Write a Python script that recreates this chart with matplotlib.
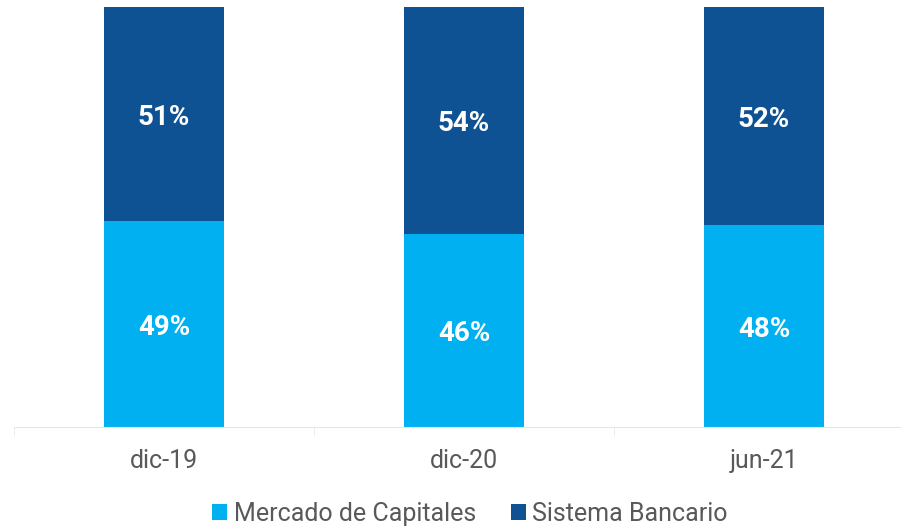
import numpy as np
import matplotlib.pyplot as plt

plt.rcParams['font.family'] = ['Roboto', 'DejaVu Sans']

categorias = ['dic-19', 'dic-20', 'jun-21']
mercado = [49, 46, 48]
bancario = [51, 54, 52]
etiquetas_mercado = ['49%', '46%', '48%']
etiquetas_bancario = ['51%', '54%', '52%']

c_claro = '#00B0F0'
c_oscuro = '#0E5294'

fig = plt.figure(figsize=(9.01, 5.29), dpi=100)
ax = fig.add_axes([14 / 901, 102 / 529, 900 / 901, 420 / 529])

x = np.arange(len(categorias))
b1 = ax.bar(x, mercado, width=0.4, color=c_claro, label='Mercado de Capitales')
b2 = ax.bar(x, bancario, width=0.4, bottom=mercado, color=c_oscuro, label='Sistema Bancario')

for i in range(len(x)):
    ax.text(x[i], mercado[i] / 2, etiquetas_mercado[i], ha='center', va='center_baseline',
            color='white', fontsize=20, fontweight='bold')
    ax.text(x[i], mercado[i] + bancario[i] / 2, etiquetas_bancario[i], ha='center',
            va='center_baseline', color='white', fontsize=20, fontweight='bold')

ax.set_xlim(-0.5, 2.5)
ax.set_ylim(0, 100)
ax.set_yticks([])
ax.set_xticks(x)
ax.set_xticklabels(categorias, fontsize=18, color='#595959')
ax.set_xticks([-0.5, 0.5, 1.5, 2.5], minor=True)
ax.tick_params(axis='x', which='major', length=0, pad=16)
ax.tick_params(axis='x', which='minor', length=6, color='#E6E6E6')
for s in ['top', 'right', 'left']:
    ax.spines[s].set_visible(False)
ax.spines['bottom'].set_color('#E6E6E6')

ax.legend(loc='center', bbox_to_anchor=(470 / 901, 15 / 529), bbox_transform=fig.transFigure,
          ncol=2, frameon=False, fontsize=18, handlelength=0.6, handleheight=0.6,
          handletextpad=0.25, columnspacing=1.4, labelcolor='#595959')

fig.savefig('out.png', dpi=100)
